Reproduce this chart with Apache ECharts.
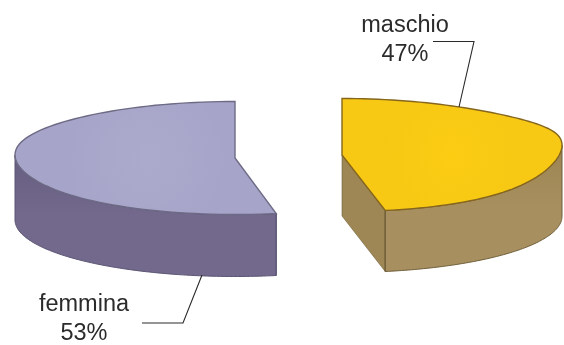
<!DOCTYPE html>
<html><head><meta charset="utf-8">
<style>html,body{margin:0;padding:0;background:#fff}#c{width:564px;height:345px}</style>
<script src="https://cdn.jsdelivr.net/npm/echarts@6/dist/echarts.min.js"></script>
</head><body><div id="c"></div>
<script>
var categories = ['femmina', 'maschio'];
var shares = [53, 47];

var layout = [
  {cx:235, cy:158, dir:-1, lift:3, depth:62, nudge:0, lx:84, ly:305, leader:[[202,275],[183,323],[142,323]],
   top:'#a6a4c8', topHi:'#acaacc', edge:'#6d6a85', side:'#72698c', sideDark:'#665e80', sideEdge:'#5c5574'},
  {cx:342, cy:155, dir:1, lift:10, depth:61, nudge:2, lx:405, ly:26, leader:[[433,41.5],[474,41.5],[459,107]],
   top:'#f7c814', topHi:'#fbcc12', edge:'#86661c', side:'#a88f5f', sideDark:'#9c8452', sideEdge:'#6f5f3a'}
];
var RX = 220, RY = 56.5, LINE_GAP = 29;

var total = shares.reduce(function(a,b){return a+b;},0);

function renderItem(params, api){
  var i = params.dataIndex, L = layout[i];
  var sweep = api.value(1)/total*Math.PI*2;
  function rim(t, lifted){
    var sx = Math.sin(t), cx = Math.cos(t);
    var off = lifted ? -L.lift*Math.pow(Math.abs(sx),6) : 0;
    var endPull = L.nudge*Math.max(0,(t-Math.PI/2)/(sweep-Math.PI/2));
    return [L.cx + L.dir*RX*sx + endPull, L.cy - RY*cx + off];
  }
  var N = 90, k, t;
  var top = [[L.cx,L.cy]];
  for(k=0;k<=N;k++){ top.push(rim(sweep*k/N,true)); }
  var wallUp = [], wallDown = [];
  for(k=0;k<=N;k++){
    t = Math.PI/2 + (sweep-Math.PI/2)*k/N;
    var u = rim(t,true), d = rim(t,false);
    wallUp.push(u);
    wallDown.push([d[0], d[1]+L.depth]);
  }
  var wall = wallUp.concat(wallDown.slice().reverse());
  var children = [];
  var endTop = rim(sweep,false);
  if(L.dir>0){
    children.push({type:'polygon', shape:{points:[[L.cx,L.cy],endTop,[endTop[0],endTop[1]+L.depth],[L.cx,L.cy+L.depth]]},
      style:{fill:L.sideDark, stroke:L.sideEdge, lineWidth:0.6, opacity:0.98}});
  }
  children.push({type:'polygon', shape:{points:wall},
    style:{fill:{type:'linear',x:0,y:0,x2:0,y2:1,colorStops:[{offset:0,color:L.sideDark},{offset:0.5,color:L.side},{offset:1,color:L.side}]},
      stroke:L.sideEdge, lineWidth:1}});
  children.push({type:'polyline', shape:{points:[endTop,[endTop[0],endTop[1]+L.depth]]},
    style:{fill:null, stroke:L.sideEdge, lineWidth:1}});
  children.push({type:'polygon', shape:{points:top},
    style:{fill:{type:'radial',x:0.5,y:0.5,r:0.7,colorStops:[{offset:0,color:L.topHi},{offset:1,color:L.top}]},
      stroke:L.edge, lineWidth:1.4}});
  children.push({type:'polyline', shape:{points:L.leader},
    style:{fill:null, stroke:'#2a2a2a', lineWidth:1.1}});
  [api.value(0), api.value(1)+'%'].forEach(function(txt,n){
    children.push({type:'text', x:L.lx, y:L.ly+n*LINE_GAP,
      style:{text:txt, x:0, y:0, align:'center', verticalAlign:'middle',
        fontFamily:'Liberation Sans', fontSize:23.5, fill:'#2b2b2b'}});
  });
  return {type:'group', children:children};
}

var seriesData = categories.map(function(c,i){ return [c, shares[i]]; });
var chart = echarts.init(document.getElementById('c'), null, {renderer:'canvas'});
chart.setOption({
  animation:false,
  backgroundColor:'#ffffff',
  series:[{type:'custom', coordinateSystem:'none', renderItem:renderItem, data:seriesData,
    dimensions:[{name:'cat',type:'ordinal'},{name:'val',type:'number'}], silent:true}]
});
</script></body></html>
